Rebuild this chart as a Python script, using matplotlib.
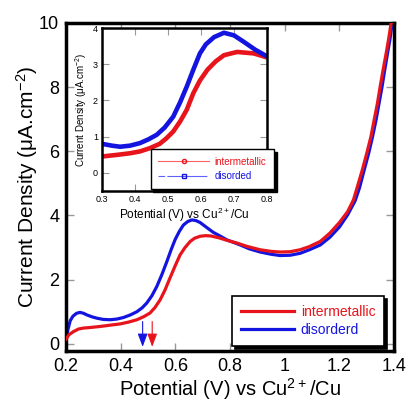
import matplotlib.pyplot as plt
from matplotlib.lines import Line2D

plt.rcParams['font.family'] = ['Liberation Sans', 'DejaVu Sans']
plt.rcParams['mathtext.fontset'] = 'custom'
plt.rcParams['mathtext.rm'] = 'Liberation Sans'
plt.rcParams['mathtext.default'] = 'regular'

# main plot data (potential in V, current density in uA/cm2)
v_inter = [0.2, 0.21, 0.227, 0.245, 0.263, 0.29, 0.324, 0.36, 0.398, 0.43, 0.459, 0.485, 0.507,
           0.525, 0.544, 0.562, 0.58, 0.6, 0.617, 0.635, 0.654, 0.67, 0.69, 0.71, 0.73, 0.76, 0.79,
           0.825, 0.86, 0.91, 0.95, 0.983, 1.02, 1.056, 1.09, 1.13, 1.165, 1.2, 1.23, 1.251, 1.264,
           1.283, 1.3, 1.315, 1.327, 1.339, 1.349, 1.36, 1.371, 1.38, 1.388, 1.392]
j_inter = [0.15, 0.28, 0.38, 0.46, 0.49, 0.51, 0.54, 0.58, 0.62, 0.68, 0.75, 0.85, 0.96,
           1.13, 1.37, 1.68, 2.05, 2.45, 2.77, 3.0, 3.19, 3.29, 3.35, 3.37, 3.36, 3.3, 3.22,
           3.14, 3.04, 2.93, 2.88, 2.86, 2.87, 2.93, 3.03, 3.19, 3.45, 3.78, 4.12, 4.48, 4.85,
           5.4, 5.94, 6.45, 6.98, 7.5, 8.02, 8.55, 9.06, 9.5, 9.94, 10.1]
v_disord = [0.2, 0.207, 0.215, 0.225, 0.238, 0.251, 0.264, 0.276, 0.295, 0.312, 0.336, 0.361,
            0.385, 0.41, 0.435, 0.459, 0.478, 0.495, 0.514, 0.532, 0.55, 0.568, 0.585, 0.599,
            0.614, 0.629, 0.645, 0.66, 0.675, 0.69, 0.715, 0.739, 0.763, 0.788, 0.837, 0.87,
            0.91, 0.95, 0.983, 1.02, 1.056, 1.09, 1.13, 1.165, 1.2, 1.23, 1.257, 1.273, 1.29,
            1.307, 1.321, 1.334, 1.345, 1.356, 1.366, 1.376, 1.385, 1.392, 1.395]
j_disord = [0.15, 0.45, 0.72, 0.86, 0.95, 0.98, 0.95, 0.9, 0.84, 0.8, 0.76, 0.75,
            0.77, 0.82, 0.9, 1.0, 1.12, 1.27, 1.5, 1.79, 2.15, 2.55, 2.95, 3.25,
            3.5, 3.7, 3.81, 3.86, 3.84, 3.78, 3.62, 3.47, 3.36, 3.24, 3.08, 2.96,
            2.86, 2.79, 2.75, 2.76, 2.82, 2.93, 3.08, 3.32, 3.64, 4.02, 4.45, 4.85, 5.4,
            5.94, 6.45, 6.98, 7.5, 8.02, 8.55, 9.06, 9.5, 9.94, 10.1]

# inset data
v_in_inter = [0.30, 0.35, 0.385, 0.415, 0.445, 0.475, 0.495, 0.516, 0.537, 0.557, 0.577, 0.597,
              0.62, 0.645, 0.67, 0.71, 0.76, 0.80]
j_in_inter = [0.45, 0.50, 0.54, 0.59, 0.68, 0.80, 0.95, 1.14, 1.42, 1.74, 2.2, 2.55,
              2.85, 3.08, 3.25, 3.34, 3.30, 3.19]
v_in_dis = [0.30, 0.33, 0.355, 0.385, 0.415, 0.44, 0.466, 0.49, 0.516, 0.537, 0.557, 0.577,
            0.597, 0.615, 0.64, 0.67, 0.70, 0.73, 0.765, 0.80]
j_in_dis = [0.80, 0.75, 0.72, 0.75, 0.82, 0.92, 1.05, 1.25, 1.55, 1.95, 2.38, 2.85,
            3.3, 3.55, 3.75, 3.87, 3.8, 3.62, 3.4, 3.22]

arrow_blue = 0.48
arrow_red = 0.515

red = '#e8141c'
blue = '#1414e0'

fig = plt.figure(figsize=(4.08, 4.01), dpi=100)
ax = fig.add_axes([0.162, 0.125, 0.804, 0.818])

ax.plot(v_inter, j_inter, color=red, lw=2.3, label='intermetallic', zorder=3)
ax.plot(v_disord, j_disord, color=blue, lw=2.3, label='disorderd', zorder=2)

ax.annotate('', xy=(arrow_blue, -0.18), xytext=(arrow_blue, 0.78),
            arrowprops=dict(arrowstyle='-|>,head_width=0.3,head_length=0.8', color=blue, lw=0.8),
            annotation_clip=False)
ax.annotate('', xy=(arrow_red, -0.18), xytext=(arrow_red, 0.78),
            arrowprops=dict(arrowstyle='-|>,head_width=0.3,head_length=0.8', color=red, lw=0.8),
            annotation_clip=False)

ax.set_xlim(0.2, 1.4)
ax.set_ylim(-0.22, 10)
ax.set_xticks([0.2, 0.4, 0.6, 0.8, 1.0, 1.2, 1.4])
ax.set_xticklabels(['0.2', '0.4', '0.6', '0.8', '1', '1.2', '1.4'])
ax.set_yticks([0, 2, 4, 6, 8, 10])
ax.tick_params(direction='in', length=6, width=1, color='#999999', labelsize=13,
               top=True, right=True, pad=5)
for s in ax.spines.values():
    s.set_linewidth(2.5)
ax.set_xlabel('Potential (V) vs Cu$^{2+}$/Cu', fontsize=14.5, labelpad=1)
ax.set_ylabel('Current Density (μA.cm$^{-2}$)', fontsize=15, labelpad=-1)

leg = ax.legend(loc='lower right', bbox_to_anchor=(0.97, 0.015), borderaxespad=0,
                fontsize=10, handlelength=3.8, frameon=True, fancybox=False,
                shadow={'color': 'black', 'alpha': 1}, borderpad=0.65, labelspacing=0.3,
                handletextpad=0.5)
leg.get_frame().set_edgecolor('black')
leg.get_frame().set_linewidth(1.2)
for t, c in zip(leg.get_texts(), [red, blue]):
    t.set_color(c)

# inset
ins = fig.add_axes([0.25, 0.524, 0.404, 0.406])
ins.plot(v_in_inter, j_in_inter, color=red, lw=3.3)
ins.plot(v_in_dis, j_in_dis, color=blue, lw=3.3)
ins.set_xlim(0.3, 0.8)
ins.set_ylim(-0.5, 4)
ins.set_xticks([0.3, 0.4, 0.5, 0.6, 0.7, 0.8])
ins.set_yticks([0, 1, 2, 3, 4])
ins.tick_params(direction='in', length=5, width=0.8, color='#999999', labelsize=6.5,
                top=True, right=True, pad=3)
for s in ins.spines.values():
    s.set_linewidth(1.8)
ins.set_xlabel('Potential (V) vs Cu$^{2+}$/Cu', fontsize=8.5, labelpad=1)
ins.set_ylabel('Current Density (μA.cm$^{-2}$)', fontsize=7, labelpad=3)

h1 = Line2D([], [], color='#ff6060', lw=0.8, marker='o', ms=3, mfc='none', mec=red)
h2 = Line2D([], [], color='#6060ff', lw=0.8, ls=(0, (6, 2, 30, 0)), marker='s', ms=3, mfc='none', mec=blue)
ileg = ins.legend([h1, h2], ['intermetallic', 'disorded'], loc='lower right',
                  bbox_to_anchor=(1.045, 0.01), borderaxespad=0, fontsize=7, handlelength=5.2,
                  frameon=True, fancybox=False, shadow={'color': 'black', 'alpha': 1},
                  borderpad=0.8, labelspacing=0.5, handletextpad=0.6)
ileg.get_frame().set_edgecolor('black')
ileg.get_frame().set_linewidth(1.0)
ileg.set_zorder(5)
for t, c in zip(ileg.get_texts(), [red, blue]):
    t.set_color(c)

fig.savefig('out.png', dpi=100)
